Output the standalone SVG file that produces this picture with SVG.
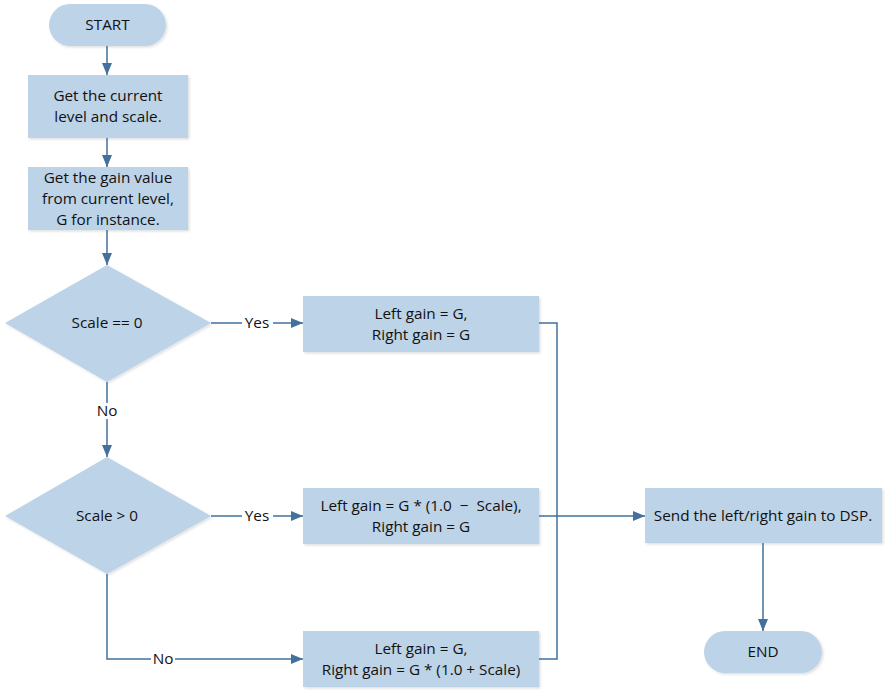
<svg xmlns="http://www.w3.org/2000/svg" width="893" height="698" viewBox="0 0 893 698">
<style>
.n{fill:#BDD3E8;filter:url(#sh)}
.t{font-family:"Open Sans","Liberation Sans",Arial,sans-serif;font-size:15.3px;fill:#111;text-anchor:middle;dominant-baseline:central;white-space:pre}
.c{fill:none;stroke:#41719C;stroke-width:1.5}
.lb{font-family:"Open Sans","Liberation Sans",Arial,sans-serif;font-size:15.3px;fill:#111;text-anchor:middle;dominant-baseline:central}
.bg{fill:#fff}
</style>
<defs>
<filter id="sh" x="-10%" y="-10%" width="125%" height="130%">
<feDropShadow dx="1.5" dy="1.5" stdDeviation="1.2" flood-color="#000" flood-opacity="0.12"/>
</filter>
<marker id="ah" viewBox="0 0 12 10" refX="12" refY="5" markerWidth="12" markerHeight="10" markerUnits="userSpaceOnUse" orient="auto">
<path d="M0,0 L12,5 L0,10 Z" fill="#41719C"/>
</marker>
</defs>
<rect width="893" height="698" fill="#fff"/>
<g id="start"><rect class="n" x="49" y="4" width="117" height="42" rx="21"/><text class="t" x="107.5" y="24">START</text></g>
<g id="get-level"><rect class="n" x="28" y="75" width="160" height="63"/><text class="t" x="108" y="95">Get the current</text><text class="t" x="108" y="116">level and scale.</text></g>
<g id="get-gain"><rect class="n" x="28" y="167" width="160" height="63"/><text class="t" x="108" y="177">Get the gain value</text><text class="t" x="108" y="198">from current level,</text><text class="t" x="108" y="219">G for instance.</text></g>
<g id="dec1"><polygon class="n" points="107,265 211,323 107,382 5,323"/><text class="t" x="107" y="322">Scale == 0</text></g>
<g id="dec2"><polygon class="n" points="107,457 211,516 107,574 5,516"/><text class="t" x="107" y="515">Scale &gt; 0</text></g>
<g id="box-a"><rect class="n" x="303" y="296" width="236" height="56"/><text class="t" x="421" y="313">Left gain = G,</text><text class="t" x="421" y="334">Right gain = G</text></g>
<g id="box-b"><rect class="n" x="303" y="488" width="236" height="56"/><text class="t" x="421" y="505">Left gain = G * (1.0  −  Scale),</text><text class="t" x="421" y="526">Right gain = G</text></g>
<g id="box-c"><rect class="n" x="303" y="631" width="236" height="56"/><text class="t" x="421" y="648">Left gain = G,</text><text class="t" x="421" y="669">Right gain = G * (1.0 + Scale)</text></g>
<g id="send"><rect class="n" x="645" y="488" width="237" height="55"/><text class="t" x="763" y="515">Send the left/right gain to DSP.</text></g>
<g id="end"><rect class="n" x="704" y="631" width="118" height="42" rx="21"/><text class="t" x="763" y="651">END</text></g>
<g id="connectors">
<path class="c" d="M107,46 V75" marker-end="url(#ah)"/>
<path class="c" d="M107,138 V167" marker-end="url(#ah)"/>
<path class="c" d="M107,230 V265" marker-end="url(#ah)"/>
<path class="c" d="M211,323 H303" marker-end="url(#ah)"/>
<path class="c" d="M107,382 V457" marker-end="url(#ah)"/>
<path class="c" d="M211,516 H303" marker-end="url(#ah)"/>
<path class="c" d="M107,574 V659 H303" marker-end="url(#ah)"/>
<path class="c" d="M539,323 H557 V659 H539"/>
<path class="c" d="M539,516 H645" marker-end="url(#ah)"/>
<path class="c" d="M763,543 V631" marker-end="url(#ah)"/>
<rect class="bg" x="242" y="315" width="31" height="16"/><text class="lb" x="257" y="322">Yes</text>
<rect class="bg" x="242" y="508" width="31" height="16"/><text class="lb" x="257" y="515">Yes</text>
<rect class="bg" x="95" y="403" width="24" height="16"/><text class="lb" x="107" y="410">No</text>
<rect class="bg" x="151" y="651" width="24" height="16"/><text class="lb" x="163" y="658">No</text>
</g>
</svg>
